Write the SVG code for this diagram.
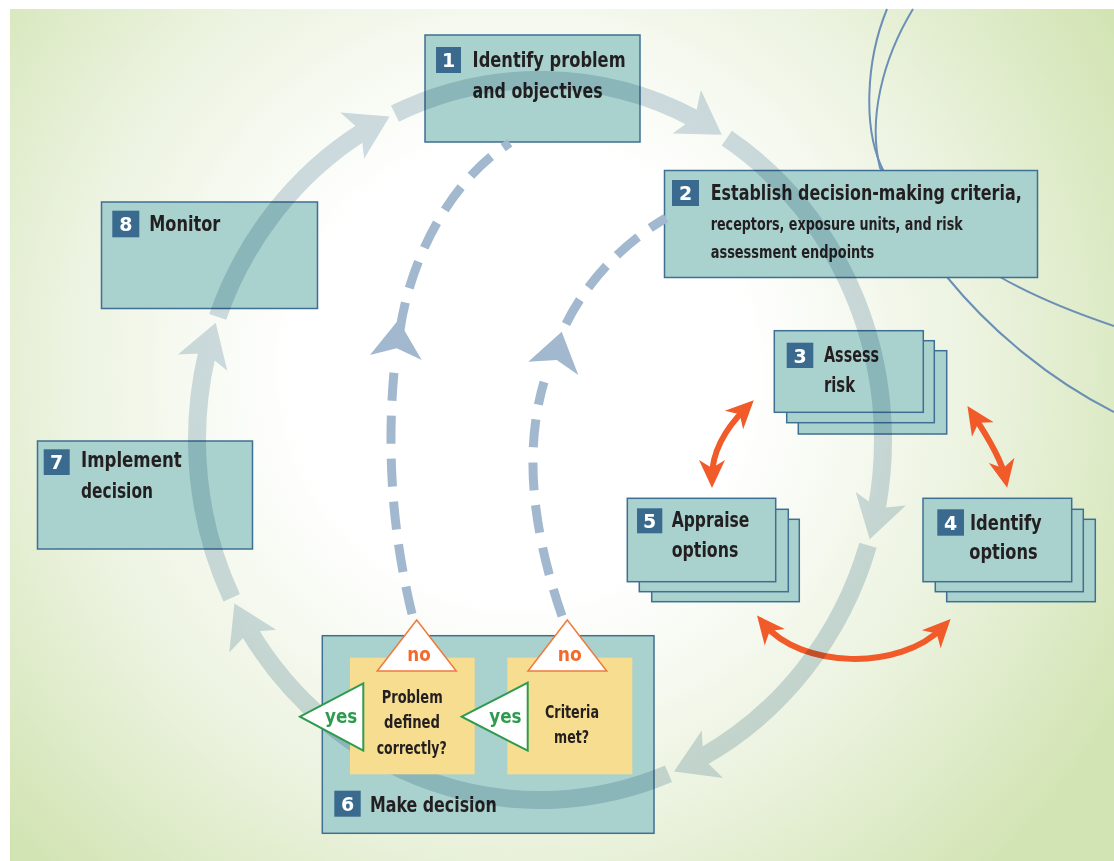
<svg xmlns="http://www.w3.org/2000/svg" width="1114" height="861" viewBox="0 0 1114 861">
<defs>
<radialGradient id="bg" gradientUnits="userSpaceOnUse" cx="520" cy="370" r="690">
<stop offset="0" stop-color="#ffffff"/>
<stop offset="0.33" stop-color="#ffffff"/>
<stop offset="0.66" stop-color="#ecf3e0"/>
<stop offset="1" stop-color="#d2e4b3"/>
</radialGradient>
<marker id="oh" viewBox="0 0 28 28" refX="17" refY="14" markerWidth="28" markerHeight="28" markerUnits="userSpaceOnUse" orient="auto-start-reverse">
<path d="M0,1 L28,14 L0,27 L8,14 Z" fill="#f15a29"/>
</marker>
<style>
.box{fill:#a9d1ce;stroke:#3f6f93;stroke-width:1.5}
.badge{fill:#3b6a8f}
.num{font-family:"DejaVu Sans","Liberation Sans",sans-serif;font-weight:bold;font-size:19px;fill:#ffffff;text-anchor:middle}
.t{font-family:"DejaVu Sans Condensed","DejaVu Sans","Liberation Sans",sans-serif;font-stretch:condensed;font-weight:bold;fill:#231f20}
.big{font-size:22px}
.small{font-size:17px}
.dash{fill:none;stroke:#a2b8cf;stroke-width:9;stroke-dasharray:28 15}
.dhead{fill:#a2b8cf}
.orange{fill:none;stroke:#f15a29;stroke-width:6;marker-start:url(#oh);marker-end:url(#oh)}
.arc{fill:none;stroke:#d0dde5;stroke-width:18}
.ahead{fill:#d0dde5}
.thin{fill:none;stroke:#6b8fb5;stroke-width:2}
.yel{fill:#f7dd8f}
.no{fill:#ffffff;stroke:#f07a3c;stroke-width:1.5}
.yes{fill:#ffffff;stroke:#2e9b4e;stroke-width:2}
.notxt{font-family:"DejaVu Sans","Liberation Sans",sans-serif;font-weight:bold;font-size:19px;fill:#f26b2a}
.yestxt{font-family:"DejaVu Sans","Liberation Sans",sans-serif;font-weight:bold;font-size:19px;fill:#2e9b4e}
</style>
</defs>

<rect x="10" y="9" width="1104" height="852" fill="url(#bg)"/>

<g id="decor">
<path class="thin" d="M887,9 C866,60 862,130 884,172 L947,277 C990,330 1050,380 1114,412"/>
<path class="thin" d="M913,9 C882,60 868,120 880,168 L1000,277 C1035,297 1075,313 1114,326"/>
</g>

<g id="node-1">
<rect class="box" x="425" y="35" width="215" height="107"/>
<rect class="badge" x="436" y="47" width="25" height="26"/>
<text class="num" x="448.5" y="67">1</text>
<text class="t big" x="472.6" y="67" textLength="153" lengthAdjust="spacingAndGlyphs">Identify problem</text>
<text class="t big" x="472.6" y="98" textLength="130" lengthAdjust="spacingAndGlyphs">and objectives</text>
</g>

<g id="node-2">
<rect class="box" x="664.5" y="170.5" width="373" height="107"/>
<rect class="badge" x="672" y="180" width="27" height="26"/>
<text class="num" x="685.5" y="200">2</text>
<text class="t big" x="710.7" y="200" textLength="311" lengthAdjust="spacingAndGlyphs">Establish decision-making criteria,</text>
<text class="t small" x="710.7" y="230" textLength="252" lengthAdjust="spacingAndGlyphs">receptors, exposure units, and risk</text>
<text class="t small" x="710.7" y="258" textLength="163.5" lengthAdjust="spacingAndGlyphs">assessment endpoints</text>
</g>

<g id="node-3">
<rect class="box" x="798.3" y="350.7" width="148.4" height="83.3"/>
<rect class="box" x="786.7" y="340.7" width="147.6" height="82"/>
<rect class="box" x="774.3" y="330.7" width="149" height="81.6"/>
<rect class="badge" x="786.7" y="342.7" width="26.6" height="25.3"/>
<text class="num" x="800" y="362.5">3</text>
<text class="t big" x="824" y="362" textLength="55" lengthAdjust="spacingAndGlyphs">Assess</text>
<text class="t big" x="824" y="392" textLength="31" lengthAdjust="spacingAndGlyphs">risk</text>
</g>

<g id="node-4">
<rect class="box" x="946.7" y="519.3" width="148.6" height="82.4"/>
<rect class="box" x="935.3" y="509.3" width="148" height="82.4"/>
<rect class="box" x="923" y="498.3" width="148.7" height="83.4"/>
<rect class="badge" x="937.3" y="509.3" width="26.7" height="26.4"/>
<text class="num" x="950.6" y="529.5">4</text>
<text class="t big" x="970" y="530" textLength="71.7" lengthAdjust="spacingAndGlyphs">Identify</text>
<text class="t big" x="969.3" y="559.3" textLength="68.4" lengthAdjust="spacingAndGlyphs">options</text>
</g>

<g id="node-5">
<rect class="box" x="651.7" y="519.3" width="147.6" height="82.4"/>
<rect class="box" x="639.3" y="509.3" width="149" height="82.4"/>
<rect class="box" x="627.3" y="498.3" width="148.4" height="83.4"/>
<rect class="badge" x="637" y="508.3" width="25.3" height="25"/>
<text class="num" x="649.6" y="528">5</text>
<text class="t big" x="671.7" y="527" textLength="77.6" lengthAdjust="spacingAndGlyphs">Appraise</text>
<text class="t big" x="671.7" y="556.7" textLength="66.6" lengthAdjust="spacingAndGlyphs">options</text>
</g>

<g id="node-7">
<rect class="box" x="37.5" y="441" width="215" height="108"/>
<rect class="badge" x="43.7" y="449.3" width="26" height="25.7"/>
<text class="num" x="56.7" y="469">7</text>
<text class="t big" x="81" y="467" textLength="100.7" lengthAdjust="spacingAndGlyphs">Implement</text>
<text class="t big" x="81" y="498" textLength="72" lengthAdjust="spacingAndGlyphs">decision</text>
</g>

<g id="node-8">
<rect class="box" x="101.5" y="202" width="216" height="106.5"/>
<rect class="badge" x="112.3" y="210.7" width="27" height="26.6"/>
<text class="num" x="125.8" y="231">8</text>
<text class="t big" x="149.3" y="230.5" textLength="71" lengthAdjust="spacingAndGlyphs">Monitor</text>
</g>

<g id="node-6">
<rect class="box" x="322.3" y="635.7" width="331.7" height="197.6"/>
<rect class="badge" x="334.3" y="790.7" width="26.4" height="26"/>
<text class="num" x="347.5" y="810.5">6</text>
<text class="t big" x="370" y="811.7" textLength="126.7" lengthAdjust="spacingAndGlyphs">Make decision</text>
</g>

<g id="connectors">
<path class="dash" d="M412,614 Q383,495 394,372"/>
<path class="dash" d="M400,330 C410,260 450,180 510,143"/>
<polygon class="dhead" points="398.3,320 421.7,360 396.7,348.3 370,355"/>
<path class="dash" d="M562,616 Q515,480 544,382"/>
<path class="dash" d="M566,324 C585,285 620,245 666,218"/>
<polygon class="dhead" points="561.7,331.7 578.3,375 556.7,360 528.3,361.7"/>
<path class="orange" d="M712,477 Q712,442 746,408"/>
<path class="orange" d="M973.5,415.3 Q1001,457 1005,477"/>
<path class="orange" d="M764,624 C800,668 900,672 943,627"/>
<g id="cycle" style="mix-blend-mode:multiply">
<path class="arc" d="M217.7,316.9 A343,360 0 0 1 363.4,131.4"/>
<path class="arc" d="M395.0,113.7 A343,360 0 0 1 695.7,119.2"/>
<path class="arc" d="M726.8,138.1 A343,360 0 0 1 876.7,508.7"/>
<path class="arc" d="M868.0,545.3 A343,360 0 0 1 701.0,757.8"/>
<path class="arc" d="M668.5,773.8 A343,360 0 0 1 249.1,630.8"/>
<path class="arc" d="M231.7,597.8 A343,360 0 0 1 207.2,352.9"/>
<polygon class="ahead" points="389.6,116.4 364.1,158.7 361.1,131.0 340.3,112.5"/>
<polygon class="ahead" points="721.8,134.7 672.5,133.4 695.0,117.2 700.9,90.0"/>
<polygon class="ahead" points="869.7,539.2 905.9,505.5 878.1,508.3 855.7,491.9"/>
<polygon class="ahead" points="674.0,771.4 723.0,778.1 703.2,758.4 701.8,730.5"/>
<polygon class="ahead" points="234.4,603.4 276.1,629.8 248.4,632.2 229.3,652.6"/>
<polygon class="ahead" points="215.7,322.8 227.3,370.8 205.7,353.2 177.9,354.6"/>
</g>
</g>

<g id="decision-problem">
<rect class="yel" x="350" y="657.7" width="124.7" height="116.6"/>
<text class="t small" x="381.7" y="702.7" textLength="61" lengthAdjust="spacingAndGlyphs">Problem</text>
<text class="t small" x="384" y="728.3" textLength="56" lengthAdjust="spacingAndGlyphs">defined</text>
<text class="t small" x="376.7" y="754" textLength="70" lengthAdjust="spacingAndGlyphs">correctly?</text>
<polygon class="no" points="416.7,620 456.3,671 377.3,671"/>
<text class="notxt" x="407.3" y="661" textLength="23.4" lengthAdjust="spacingAndGlyphs">no</text>
<polygon class="yes" points="300,716.7 363.3,683.3 363.3,750.7"/>
<text class="yestxt" x="325" y="722.7" textLength="32.3" lengthAdjust="spacingAndGlyphs">yes</text>
</g>

<g id="decision-criteria">
<rect class="yel" x="507.3" y="657.7" width="125" height="116.6"/>
<text class="t small" x="545" y="718.3" textLength="54" lengthAdjust="spacingAndGlyphs">Criteria</text>
<text class="t small" x="554" y="743.3" textLength="35" lengthAdjust="spacingAndGlyphs">met?</text>
<polygon class="no" points="567.3,620 606.7,671 528,671"/>
<text class="notxt" x="557.7" y="661" textLength="24" lengthAdjust="spacingAndGlyphs">no</text>
<polygon class="yes" points="461.7,716.7 527.7,682.7 527.7,750.7"/>
<text class="yestxt" x="489.3" y="722.7" textLength="32.3" lengthAdjust="spacingAndGlyphs">yes</text>
</g>
</svg>
